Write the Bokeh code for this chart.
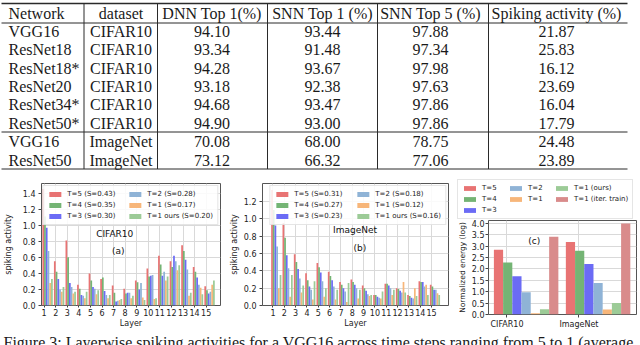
import numpy as np
from bokeh.plotting import figure
from bokeh.models import (ColumnDataSource, Range1d, FixedTicker, PrintfTickFormatter,
                          Legend, LegendItem, Label)
from bokeh.layouts import column, row
from bokeh.core.properties import value
from bokeh.embed import file_html
from bokeh.resources import INLINE

# ---------------- table data ----------------
tbl_header = ["Network", "dataset", "DNN Top 1(%)", "SNN Top 1 (%)", "SNN Top 5 (%)", "Spiking activity (%)"]
tbl_network = ["VGG16", "ResNet18", "ResNet18*", "ResNet20", "ResNet34*", "ResNet50*", "VGG16", "ResNet50"]
tbl_dataset = ["CIFAR10"] * 6 + ["ImageNet"] * 2
tbl_dnn_top1 = ["94.10", "93.34", "94.28", "93.18", "94.68", "94.90", "70.08", "73.12"]
tbl_snn_top1 = ["93.44", "91.48", "93.67", "92.38", "93.47", "93.00", "68.00", "66.32"]
tbl_snn_top5 = ["97.88", "97.34", "97.98", "97.63", "97.86", "97.86", "78.75", "77.06"]
tbl_spiking = ["21.87", "25.83", "16.12", "23.69", "16.04", "17.79", "24.48", "23.89"]

# ---------------- chart (a) CIFAR10 ----------------
layers = list(range(1, 16))
a_labels = ["T=5 (S=0.43)", "T=4 (S=0.35)", "T=3 (S=0.30)", "T=2 (S=0.28)", "T=1 (S=0.17)", "T=1 ours (S=0.20)"]
a_T5 = [1.45, 0.55, 0.81, 0.26, 0.40, 0.33, 0.25, 0.21, 0.31, 0.46, 0.62, 0.55, 0.75, 0.48, 0.24]
a_T4 = [1.11, 0.42, 0.60, 0.21, 0.31, 0.35, 0.16, 0.15, 0.29, 0.36, 0.51, 0.48, 0.68, 0.42, 0.19]
a_T3 = [0.97, 0.33, 0.28, 0.13, 0.23, 0.18, 0.05, 0.16, 0.20, 0.37, 0.37, 0.62, 0.57, 0.35, 0.15]
a_T2 = [0.68, 0.20, 0.23, 0.12, 0.21, 0.13, 0.06, 0.16, 0.28, 0.38, 0.42, 0.55, 0.45, 0.26, 0.17]
a_T1 = [0.28, 0.17, 0.15, 0.09, 0.14, 0.09, 0.07, 0.09, 0.10, 0.08, 0.31, 0.44, 0.12, 0.22, 0.26]
a_ours = [0.33, 0.23, 0.17, 0.17, 0.19, 0.13, 0.08, 0.12, 0.07, 0.09, 0.36, 0.50, 0.16, 0.14, 0.31]
a_yticks = [0.0, 0.2, 0.4, 0.6, 0.8, 1.0, 1.2, 1.4]

# ---------------- chart (b) ImageNet ----------------
b_labels = ["T=5 (S=0.31)", "T=4 (S=0.27)", "T=3 (S=0.23)", "T=2 (S=0.18)", "T=1 (S=0.12)", "T=1 ours (S=0.16)"]
b_T5 = [1.33, 0.95, 0.59, 0.37, 0.49, 0.39, 0.27, 0.30, 0.23, 0.12, 0.25, 0.20, 0.12, 0.28, 0.24]
b_T4 = [1.10, 0.78, 0.50, 0.29, 0.44, 0.34, 0.24, 0.27, 0.20, 0.12, 0.25, 0.19, 0.11, 0.27, 0.22]
b_T3 = [0.92, 0.58, 0.42, 0.22, 0.38, 0.29, 0.20, 0.24, 0.17, 0.10, 0.23, 0.17, 0.09, 0.27, 0.18]
b_T2 = [0.68, 0.43, 0.31, 0.18, 0.28, 0.22, 0.16, 0.20, 0.13, 0.09, 0.20, 0.15, 0.08, 0.22, 0.18]
b_T1 = [0.20, 0.10, 0.15, 0.07, 0.10, 0.07, 0.04, 0.08, 0.11, 0.08, 0.12, 0.27, 0.20, 0.24, 0.14]
b_ours = [0.35, 0.35, 0.23, 0.28, 0.20, 0.18, 0.26, 0.18, 0.12, 0.16, 0.18, 0.15, 0.11, 0.12, 0.12]
b_yticks = [0.0, 0.2, 0.4, 0.6, 0.8, 1.0, 1.2]

# ---------------- chart (c) energy ----------------
c_datasets = ["CIFAR10", "ImageNet"]
c_labels = ["T=5", "T=4", "T=3", "T=2", "T=1", "T=1 (ours)", "T=1 (iter. train)"]
c_T5 = [2.85, 3.18]
c_T4 = [2.28, 2.80]
c_T3 = [1.68, 2.22]
c_T2 = [0.98, 1.38]
c_T1 = [0.05, 0.22]
c_ours = [0.23, 0.50]
c_iter = [3.42, 4.00]
c_yticks = [0.0, 0.5, 1.0, 1.5, 2.0, 2.5, 3.0, 3.5, 4.0]

# ---------------- styles ----------------
COLORS = ["#e87373", "#74b474", "#6b6bf5", "#8fb3d6", "#f7b67a", "#9ccb97"]
ITER_COLOR = "#d98b8b"
FONT = "DejaVu Sans"
SERIF = "Liberation Serif"
INK = "#1a1a1a"
FRAME = "#555555"


def no_align(p):
    if "frame_align" in p.properties():
        p.frame_align = False


# ================= table =================
tf = figure(width=640, height=172, x_range=Range1d(0, 640), y_range=Range1d(172, 0),
            x_axis_location=None, y_axis_location=None, output_backend="svg",
            toolbar_location=None, min_border=0)
tf.grid.visible = False
tf.outline_line_color = None
no_align(tf)

col_x = [8, 120.5, 211.5, 322, 430, 556]
col_align = ["left", "center", "center", "center", "center", "center"]
header_y = 12.5
row_y = [31 + 18.36 * i for i in range(len(tbl_network))]
cols = [tbl_network, tbl_dataset, tbl_dnn_top1, tbl_snn_top1, tbl_snn_top5, tbl_spiking]
tx, ty, tt, ta = [], [], [], []
for j, (cx, al) in enumerate(zip(col_x, col_align)):
    tx.append(cx); ty.append(header_y); tt.append(tbl_header[j]); ta.append(al)
    for i, v in enumerate(cols[j]):
        tx.append(cx); ty.append(row_y[i]); tt.append(v); ta.append(al)
tsrc = ColumnDataSource(dict(x=tx, y=ty, text=tt, align=ta))
tf.text(x="x", y="y", text="text", text_align="align", text_baseline="middle", source=tsrc,
        text_font=value(SERIF), text_font_size=value("16px"), text_color=INK)

h_y = [3, 22.5, 131.5, 168.5]
h_w = [1.6, 1, 1, 1]
tf.segment(x0=[1] * 4, x1=[627] * 4, y0=h_y, y1=h_y, line_color="#2a2a2a", line_width=h_w)
v_x = [83.5, 157, 267, 377, 488]
tf.segment(x0=v_x, x1=v_x, y0=[3] * 5, y1=[168.5] * 5, line_color="#2a2a2a", line_width=1)


def style_chart(p):
    no_align(p)
    p.outline_line_color = FRAME
    p.outline_line_width = 1
    for ax in p.axis:
        ax.axis_line_color = None
        ax.major_tick_line_color = "#444444"
        ax.major_tick_out = 3
        ax.major_tick_in = 0
        ax.minor_tick_line_color = None
        ax.major_label_text_font = FONT
        ax.major_label_text_font_size = "8px"
        ax.major_label_text_color = "#222222"
        ax.axis_label_text_font = FONT
        ax.axis_label_text_font_size = "8px"
        ax.axis_label_text_font_style = "normal"
        ax.axis_label_text_color = "#222222"
        ax.major_label_standoff = 3
        ax.axis_label_standoff = 4
    p.xaxis.major_tick_out = 2
    p.xaxis.major_label_standoff = 1
    p.xaxis.axis_label_standoff = 0
    p.grid.grid_line_color = "#d9d9d9"
    p.grid.grid_line_width = 1


def add_bars(p, xs, series, colors, width, offsets):
    rs = []
    for vals, col, off in zip(series, colors, offsets):
        src = ColumnDataSource(dict(x=np.asarray(xs, dtype=float) + off, top=vals))
        rs.append(p.vbar(x="x", top="top", bottom=0, width=width, source=src,
                         fill_color=col, line_color=None))
    return rs


def make_legend(rs, labels, order, ncols, label_width, **kw):
    items = [LegendItem(label=labels[k], renderers=[rs[k]]) for k in order]
    return Legend(items=items, orientation="horizontal", ncols=ncols,
                  label_text_font=FONT, label_text_font_size="7px", label_text_color="#222222",
                  glyph_width=15, glyph_height=6, label_height=7, label_width=label_width,
                  label_standoff=5, spacing=3, padding=4,
                  border_line_color="#cccccc", border_line_width=1,
                  background_fill_color="white", background_fill_alpha=0.85, **kw)


ROW_H, TOP, BOT = 159, 11, 26
bw = 0.15
offs = [-0.08 + i * bw for i in range(6)]

# ================= (a) =================
fa = figure(width=226, height=ROW_H, x_range=Range1d(0.77, 16.24), y_range=Range1d(0, 1.52),
            min_border_left=39, min_border_right=6, min_border_top=TOP, min_border_bottom=BOT,
            output_backend="svg", toolbar_location=None)
style_chart(fa)
ra = add_bars(fa, layers, [a_T5, a_T4, a_T3, a_T2, a_T1, a_ours], COLORS, bw, offs)
fa.xaxis.ticker = FixedTicker(ticks=layers)
fa.yaxis.ticker = FixedTicker(ticks=a_yticks)
fa.yaxis.formatter = PrintfTickFormatter(format="%.1f")
fa.xaxis.axis_label = "Layer"
fa.yaxis.axis_label = "spiking activity"
fa.yaxis.axis_label_standoff = 7
fa.add_layout(make_legend(ra, a_labels, [0, 3, 1, 4, 2, 5], 2, 57, location="top_right", margin=2))
fa.add_layout(Label(x=7.1, y=0.89, text="CIFAR10", text_font=FONT, text_font_size="9px",
                    text_align="center", text_baseline="middle", text_color="#111111"))
fa.add_layout(Label(x=7.4, y=0.68, text="(a)", text_font=FONT, text_font_size="9px",
                    text_align="center", text_baseline="middle", text_color="#111111"))

# ================= (b) =================
fb = figure(width=226, height=ROW_H, x_range=Range1d(0.08, 16.49), y_range=Range1d(0, 1.405),
            min_border_left=31, min_border_right=4, min_border_top=TOP, min_border_bottom=BOT,
            output_backend="svg", toolbar_location=None)
style_chart(fb)
rb = add_bars(fb, layers, [b_T5, b_T4, b_T3, b_T2, b_T1, b_ours], COLORS, bw, offs)
fb.xaxis.ticker = FixedTicker(ticks=layers)
fb.yaxis.ticker = FixedTicker(ticks=b_yticks)
fb.yaxis.formatter = PrintfTickFormatter(format="%.1f")
fb.xaxis.axis_label = "Layer"
fb.yaxis.axis_label = "spiking activity"
fb.yaxis.axis_label_standoff = 2
fb.add_layout(make_legend(rb, b_labels, [0, 3, 1, 4, 2, 5], 2, 58, location="top_right", margin=2))
fb.add_layout(Label(x=8.24, y=0.865, text="ImageNet", text_font=FONT, text_font_size="9px",
                    text_align="center", text_baseline="middle", text_color="#111111"))
fb.add_layout(Label(x=8.67, y=0.66, text="(b)", text_font=FONT, text_font_size="9px",
                    text_align="center", text_baseline="middle", text_color="#111111"))

# ================= (c) legend strip + axes =================
c_series = [c_T5, c_T4, c_T3, c_T2, c_T1, c_ours, c_iter]
c_colors = COLORS + [ITER_COLOR]
cw = 0.128
coffs = [-0.118 + i * cw for i in range(7)]

LEG_H = 47
# legend-only strip: its ranges keep the (legend-source) bars out of view
lf = figure(width=188, height=LEG_H, x_range=Range1d(10, 11), y_range=Range1d(10, 11),
            x_axis_location=None, y_axis_location=None, output_backend="svg",
            toolbar_location=None, min_border=0)
lf.grid.visible = False
lf.outline_line_color = None
no_align(lf)
lrs = add_bars(lf, [0, 1], c_series, c_colors, cw, coffs)
lf.add_layout(make_legend(lrs, c_labels, [0, 3, 5, 1, 4, 6, 2], 3, 23,
                          location=(5, 0), margin=0))

fc = figure(width=188, height=ROW_H - LEG_H, x_range=Range1d(-0.257, 1.80), y_range=Range1d(0, 4.13),
            min_border_left=36, min_border_right=4, min_border_top=1, min_border_bottom=17,
            output_backend="svg", toolbar_location=None)
style_chart(fc)
rc = add_bars(fc, [0, 1], c_series, c_colors, cw, coffs)
fc.xaxis.ticker = FixedTicker(ticks=[0, 1])
fc.xaxis.major_label_overrides = {0: c_datasets[0], 1: c_datasets[1]}
fc.xaxis.major_tick_out = 3
fc.xaxis.major_label_standoff = 2
fc.yaxis.ticker = FixedTicker(ticks=c_yticks)
fc.yaxis.formatter = PrintfTickFormatter(format="%.1f")
fc.yaxis.major_label_standoff = 1
fc.yaxis.axis_label = "Normalized energy (log)"
fc.yaxis.axis_label_text_font_size = "7.5px"
fc.yaxis.axis_label_standoff = 2
fc.add_layout(Label(x=0.38, y=3.25, text="(c)", text_font=FONT, text_font_size="9px",
                    text_align="center", text_baseline="middle", text_color="#111111"))

# ================= caption =================
cf = figure(width=640, height=345 - 172 - ROW_H, x_range=Range1d(0, 640), y_range=Range1d(0, 14),
            x_axis_location=None, y_axis_location=None, output_backend="svg",
            toolbar_location=None, min_border=0)
cf.grid.visible = False
cf.outline_line_color = None
no_align(cf)
cf.add_layout(Label(x=3, y=3.5, text="Figure 3: Layerwise spiking activities for a VGG16 across time steps ranging from 5 to 1 (average",
                    text_font=SERIF, text_font_size="16px", text_align="left",
                    text_baseline="alphabetic", text_color=INK))

p = column(tf, row(fa, fb, column(lf, fc)), cf)
open("out.html", "w").write(file_html(p, INLINE))
